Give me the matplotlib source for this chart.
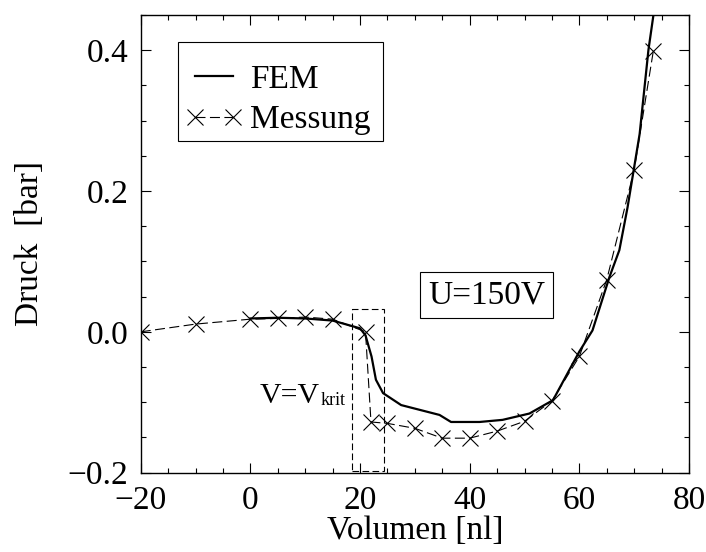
import matplotlib
matplotlib.use("Agg")
import matplotlib.pyplot as plt
from matplotlib.patches import Rectangle
from matplotlib.ticker import MultipleLocator, FuncFormatter
from matplotlib.legend_handler import HandlerLine2D

plt.rcParams['font.family'] = ['Liberation Serif', 'DejaVu Serif']
plt.rcParams['axes.unicode_minus'] = True

# Messung (measurement) data
mess_x = [-20, -10, 0, 5, 10, 15, 21, 22, 25, 30, 35, 40, 45, 50, 55, 60, 65, 70, 73.5]
mess_y = [0.0, 0.011, 0.018, 0.019, 0.021, 0.018, 0.0, -0.128, -0.130, -0.137, -0.151,
          -0.151, -0.141, -0.127, -0.098, -0.035, 0.074, 0.230, 0.399]

# FEM simulation data
fem_x = [0, 5, 10, 15, 20, 21, 22.1, 22.9, 24.2, 27.5, 34.5, 36.6, 41.8, 46.0, 50.9,
         55.2, 60.0, 62.4, 65.5, 67.3, 68.8, 71.0, 72.6, 73.5]
fem_y = [0.019, 0.020, 0.019, 0.016, 0.005, -0.005, -0.035, -0.068, -0.087, -0.104,
         -0.118, -0.128, -0.128, -0.125, -0.116, -0.097, -0.028, 0.002, 0.078, 0.116,
         0.177, 0.281, 0.400, 0.449]

fig = plt.figure(figsize=(7.06, 5.52), dpi=100)
ax = fig.add_axes([0.1993, 0.1437, 0.7766, 0.8292])

ax.plot(fem_x, fem_y, color='black', lw=1.6, label='FEM')
ax.plot(mess_x, mess_y, color='black', lw=0.8, dashes=(9, 4), marker='x',
        markersize=12, markeredgewidth=0.8, label='Messung')

ax.add_patch(Rectangle((18.6, -0.198), 5.7, 0.230, fill=False, lw=0.8,
                       ls=(0, (6, 3)), edgecolor='black'))
ax.text(1.73, -0.1016, 'V=V', fontsize=21.5, ha='left', va='baseline')
ax.text(12.75, -0.104, 'krit', fontsize=13, ha='left', va='baseline')
ax.text(43.1, 0.0522, 'U=150V', fontsize=24, ha='center', va='center',
        bbox=dict(boxstyle='square,pad=0.24', facecolor='white', edgecolor='black', lw=0.8))

ax.set_xlim(-20, 80)
ax.set_ylim(-0.2, 0.45)
ax.xaxis.set_major_locator(MultipleLocator(20))
ax.xaxis.set_minor_locator(MultipleLocator(5))
ax.yaxis.set_major_locator(MultipleLocator(0.2))
ax.yaxis.set_minor_locator(MultipleLocator(0.05))
ax.yaxis.set_major_formatter(FuncFormatter(lambda v, p: ('%.1f' % v).replace('-', '\u2212')))
ax.tick_params(which='both', direction='in', top=True, right=True, labelsize=24, width=0.8)
ax.tick_params(which='major', length=7, pad=9)
ax.tick_params(which='minor', length=3.5)
for s in ax.spines.values():
    s.set_linewidth(1.0)

ax.set_xlabel('Volumen [nl]', fontsize=24, labelpad=0)
ax.set_ylabel('Druck  [bar]', fontsize=24, labelpad=16)

# legend frame drawn separately for exact padding
ax.add_patch(Rectangle((0.0675, 0.7247), 0.375, 0.2157, transform=ax.transAxes,
                       facecolor='white', edgecolor='black', lw=0.8, zorder=4))
leg = ax.legend(loc='upper left', bbox_to_anchor=(0.0930, 0.8921), fontsize=24,
                frameon=False, handlelength=1.34, handletextpad=0.41, borderpad=0.0,
                labelspacing=0.3, borderaxespad=0, numpoints=2,
                handler_map={matplotlib.lines.Line2D: HandlerLine2D(marker_pad=0.1)})
leg.set_zorder(5)

fig.savefig('out.png', dpi=100)
